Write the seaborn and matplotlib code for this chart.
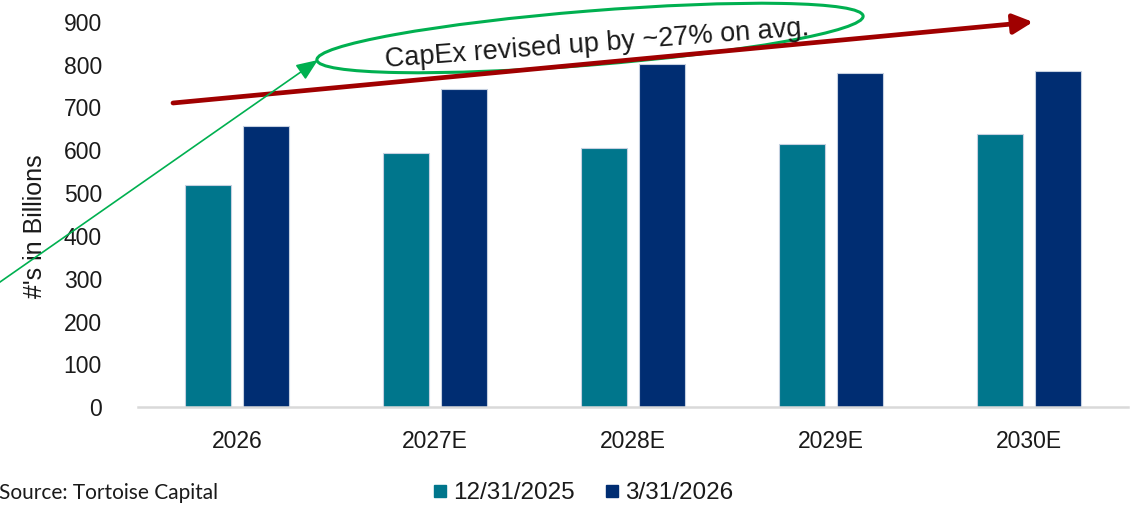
import matplotlib
matplotlib.use("Agg")
import matplotlib.pyplot as plt
import seaborn as sns
import pandas as pd
from matplotlib.patches import Ellipse
from matplotlib.lines import Line2D

categories = ["2026", "2027E", "2028E", "2029E", "2030E"]
series_names = ["12/31/2025", "3/31/2026"]
values_dec2025 = [518, 594, 605, 614, 639]
values_mar2026 = [656, 744, 801, 780, 786]
y_ticks = [0, 100, 200, 300, 400, 500, 600, 700, 800, 900]
colors = ["#00768C", "#002D72"]

df = pd.DataFrame({
    "year": categories * 2,
    "series": [series_names[0]] * len(categories) + [series_names[1]] * len(categories),
    "value": values_dec2025 + values_mar2026,
})

sns.set_theme(style="white")
plt.rcParams["font.family"] = ["Liberation Sans", "DejaVu Sans"]

W, H = 1132, 508
fig = plt.figure(figsize=(W / 100, H / 100), dpi=100)
ax = fig.add_axes([138 / W, 1 - 407.3 / H, (1128 - 138) / W, (407.3 - 21.7) / H])

sns.barplot(data=df, x="year", y="value", hue="series", palette=colors,
            width=0.58, gap=0.2, ax=ax, edgecolor="#C5D0E0", linewidth=0.8,
            legend=False, saturation=1)

ax.set_xlim(-0.5, 4.5)
ax.set_ylim(0, 900)
ax.set_yticks(y_ticks)
ax.set_xlabel("")
ax.set_ylabel("#'s in Billions", fontsize=18, color="#1a1a1a")
ax.yaxis.set_label_coords(-91 / 990, 0.47)
ax.tick_params(axis="y", length=0, pad=26, labelsize=16.5, labelcolor="#1a1a1a")
ax.tick_params(axis="x", length=0, pad=16, labelsize=16.5, labelcolor="#1a1a1a")
for s in ["top", "right", "left"]:
    ax.spines[s].set_visible(False)
ax.spines["bottom"].set_color("#D9D9D9")
ax.spines["bottom"].set_linewidth(1.8)
ax.grid(False)

# overlay for annotations in pixel coordinates (y up)
ov = fig.add_axes([0, 0, 1, 1], facecolor="none")
ov.set_xlim(0, W)
ov.set_ylim(0, H)
ov.axis("off")

def py(y):
    return H - y

# red trend arrow
ov.annotate("", xy=(1033, py(22)), xytext=(173, py(103)),
            arrowprops=dict(arrowstyle="-|>,head_length=1.0,head_width=0.5",
                            color="#A00000", lw=3.4, shrinkA=0, shrinkB=0))

# green ellipse
ov.add_patch(Ellipse((590, py(38)), 548, 54, angle=4.6, fill=False,
                     edgecolor="#00B050", lw=2.2))
ov.text(597, py(44), "CapEx revised up by ~27% on avg.", fontsize=19.5,
        rotation=4.3, ha="center", va="center", color="#1a1a1a",
        rotation_mode="anchor")

# green pointer arrow
ov.annotate("", xy=(318, py(60)), xytext=(-10, py(289)),
            arrowprops=dict(arrowstyle="-|>,head_length=1.1,head_width=0.45",
                            color="#00B050", lw=1.2, shrinkA=0, shrinkB=0))

# source
fig.text(-1 / W, 1 - 493 / H, "Source: Tortoise Capital", fontsize=15,
         family=["Lato", "DejaVu Sans"], va="center", ha="left", color="#1a1a1a")

# legend
handles = [Line2D([0], [0], marker="s", linestyle="none", markersize=8.5,
                  markerfacecolor=c, markeredgecolor=c) for c in colors]
fig.legend(handles, series_names, loc="center", bbox_to_anchor=(583 / W, 1 - 493 / H),
           ncol=2, frameon=False, fontsize=17.5, handlelength=0.6, handletextpad=0.25,
           columnspacing=1.2, labelcolor="#1a1a1a")

fig.savefig("out.png", dpi=100)
